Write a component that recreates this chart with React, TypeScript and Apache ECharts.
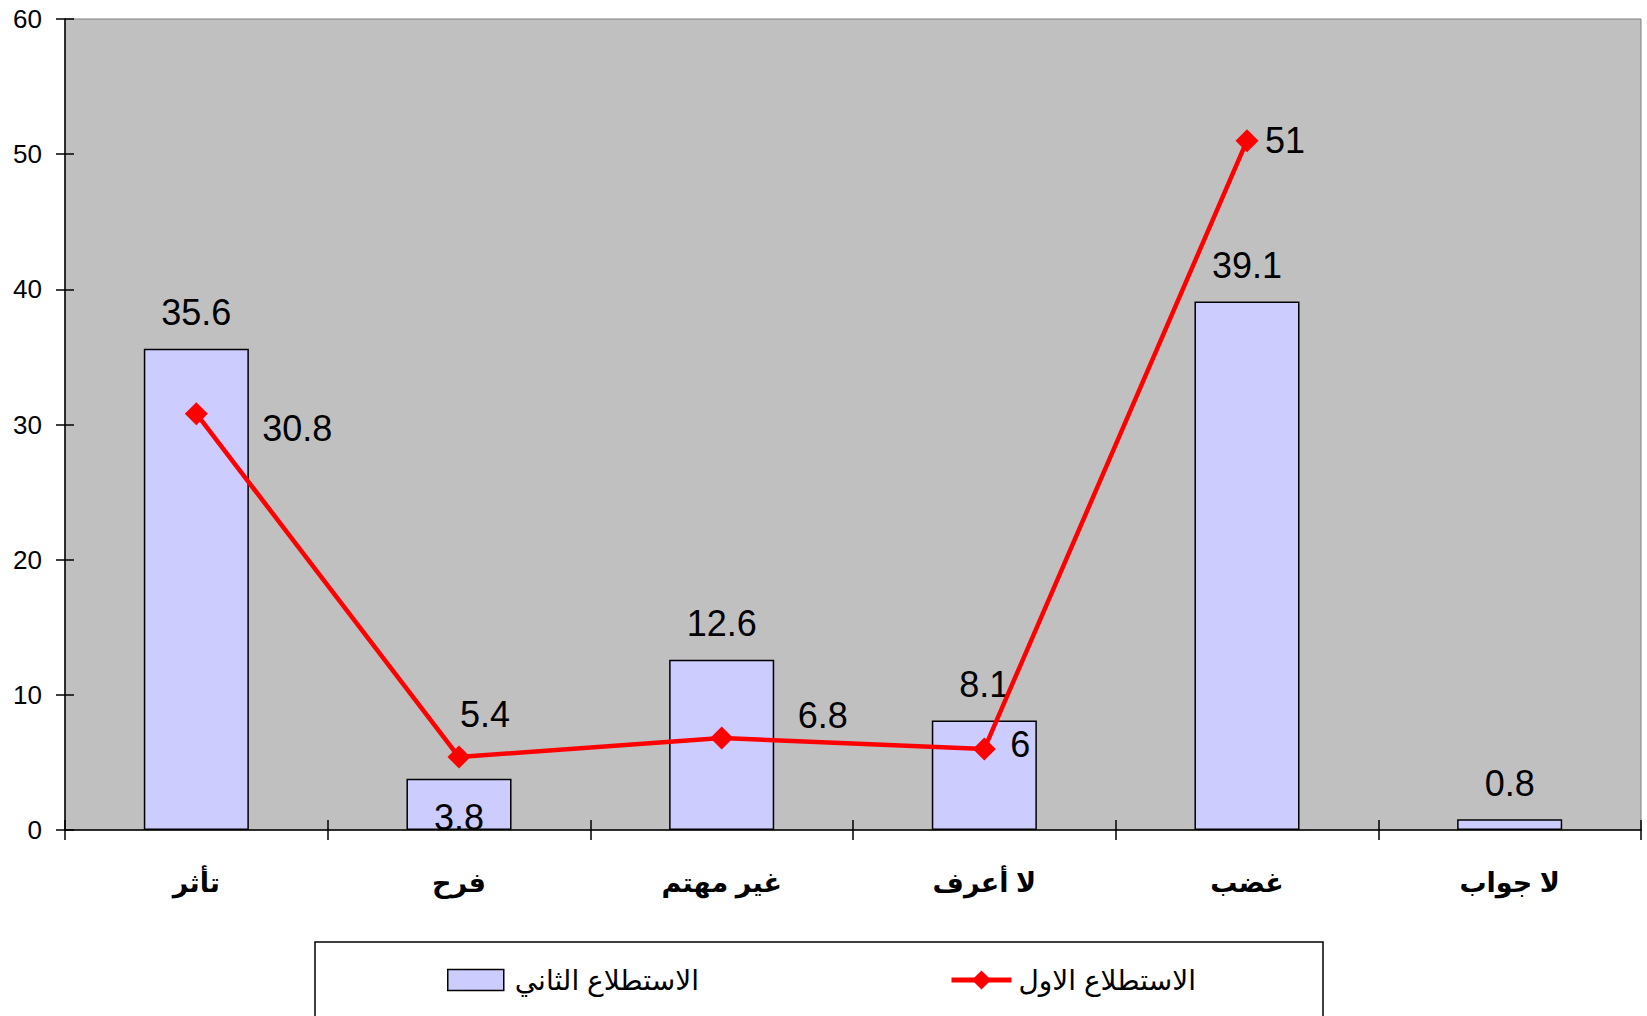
import React, { useEffect, useRef } from "react";
import * as echarts from "echarts";

const categories = ["تأثر", "فرح", "غير مهتم", "لا أعرف", "غضب", "لا جواب"];
const secondSurvey = [35.6, 3.8, 12.6, 8.1, 39.1, 0.8];
const firstSurvey: (number | null)[] = [30.8, 5.4, 6.8, 6, 51, null];
const yTicks = [0, 10, 20, 30, 40, 50, 60];
const barName = "الاستطلاع الثاني";
const lineName = "الاستطلاع الاول";

const lineLabelOffsets: [number, number][] = [
  [101, 15],
  [26, -43],
  [101, -23],
  [36, -4],
  [38, 0],
  [0, 0],
];

export default function App() {
  const ref = useRef<HTMLDivElement>(null);
  useEffect(() => {
    if (!ref.current) return;
    const chart = echarts.init(ref.current, null, { renderer: "svg" });
    const font = "Arial, 'Liberation Sans', 'DejaVu Sans', sans-serif";
    const arFont = "Arial, 'DejaVu Sans', sans-serif";
    const grid = { left: 65, right: 6, top: 19, bottom: 186 };
    chart.setOption({
      animation: false,
      backgroundColor: "#ffffff",
      grid: {
        ...grid,
        show: true,
        backgroundColor: "#C0C0C0",
        borderColor: "#808080",
        borderWidth: 1,
      },
      graphic: [
        {
          type: "rect",
          z: 0,
          shape: { x: 315, y: 942, width: 1008, height: 110 },
          style: { fill: "#ffffff", stroke: "#000000", lineWidth: 1.5 },
        },
      ],
      legend: [
        {
          data: [{ name: barName, icon: "rect" }],
          left: 442,
          top: 961,
          itemWidth: 56,
          itemHeight: 21,
          itemStyle: { borderColor: "#000", borderWidth: 1.5 },
          textStyle: { fontSize: 28, color: "#000", fontFamily: arFont, padding: [0, 0, 0, 6] },
          z: 10,
        },
        {
          data: [lineName],
          left: 944,
          top: 961,
          itemWidth: 60,
          itemHeight: 24,
          lineStyle: { width: 5 },
          textStyle: { fontSize: 28, color: "#000", fontFamily: arFont, padding: [0, 0, 0, 2] },
          z: 10,
        },
      ],
      xAxis: [
        {
          type: "category",
          data: categories,
          axisLine: { lineStyle: { color: "#000", width: 1.5 } },
          axisTick: { show: true, length: 10, lineStyle: { color: "#000", width: 1.5 } },
          axisLabel: {
            color: "#000",
            fontSize: 27,
            fontWeight: "bold",
            fontFamily: arFont,
            margin: 39,
          },
          splitLine: { show: false },
        },
        {
          type: "category",
          data: categories,
          position: "bottom",
          axisLine: { show: false },
          axisTick: { show: true, inside: true, length: 10, lineStyle: { color: "#000", width: 1.5 } },
          axisLabel: { show: false },
          splitLine: { show: false },
        },
      ],
      yAxis: [
        {
          type: "value",
          min: yTicks[0],
          max: yTicks[yTicks.length - 1],
          interval: 10,
          axisLine: { show: true, lineStyle: { color: "#000", width: 1.5 } },
          axisTick: { show: true, length: 9, lineStyle: { color: "#000", width: 1.5 } },
          axisLabel: { color: "#000", fontSize: 26, fontFamily: font, margin: 23 },
          splitLine: { show: false },
        },
        {
          type: "value",
          min: yTicks[0],
          max: yTicks[yTicks.length - 1],
          interval: 10,
          position: "left",
          axisLine: { show: false },
          axisTick: { show: true, inside: true, length: 9, lineStyle: { color: "#000", width: 1.5 } },
          axisLabel: { show: false },
          splitLine: { show: false },
        },
      ],
      series: [
        {
          name: barName,
          type: "bar",
          barCategoryGap: "60%",
          itemStyle: { color: "#CCCCFF", borderColor: "#000", borderWidth: 1.5 },
          data: secondSurvey.map((v, i) => ({
            value: v,
            label:
              i === 1
                ? { position: "insideTop", distance: 39, verticalAlign: "middle" }
                : { position: "top", distance: 36, verticalAlign: "middle" },
          })),
          label: {
            show: true,
            color: "#000",
            fontSize: 36,
            fontFamily: font,
          },
          z: 2,
        },
        {
          name: lineName,
          type: "line",
          symbol: "diamond",
          symbolSize: 23,
          connectNulls: false,
          lineStyle: { color: "#FF0000", width: 4.5 },
          itemStyle: { color: "#FF0000" },
          data: firstSurvey.map((v, i) => ({
            value: v,
            label: { offset: lineLabelOffsets[i] },
          })),
          label: {
            show: true,
            position: "inside",
            color: "#000",
            fontSize: 36,
            fontFamily: font,
          },
          z: 3,
        },
      ],
    });
    return () => chart.dispose();
  }, []);
  return (
    <div
      ref={ref}
      style={{ position: "absolute", left: 0, top: 0, width: 1647, height: 1016 }}
    />
  );
}
